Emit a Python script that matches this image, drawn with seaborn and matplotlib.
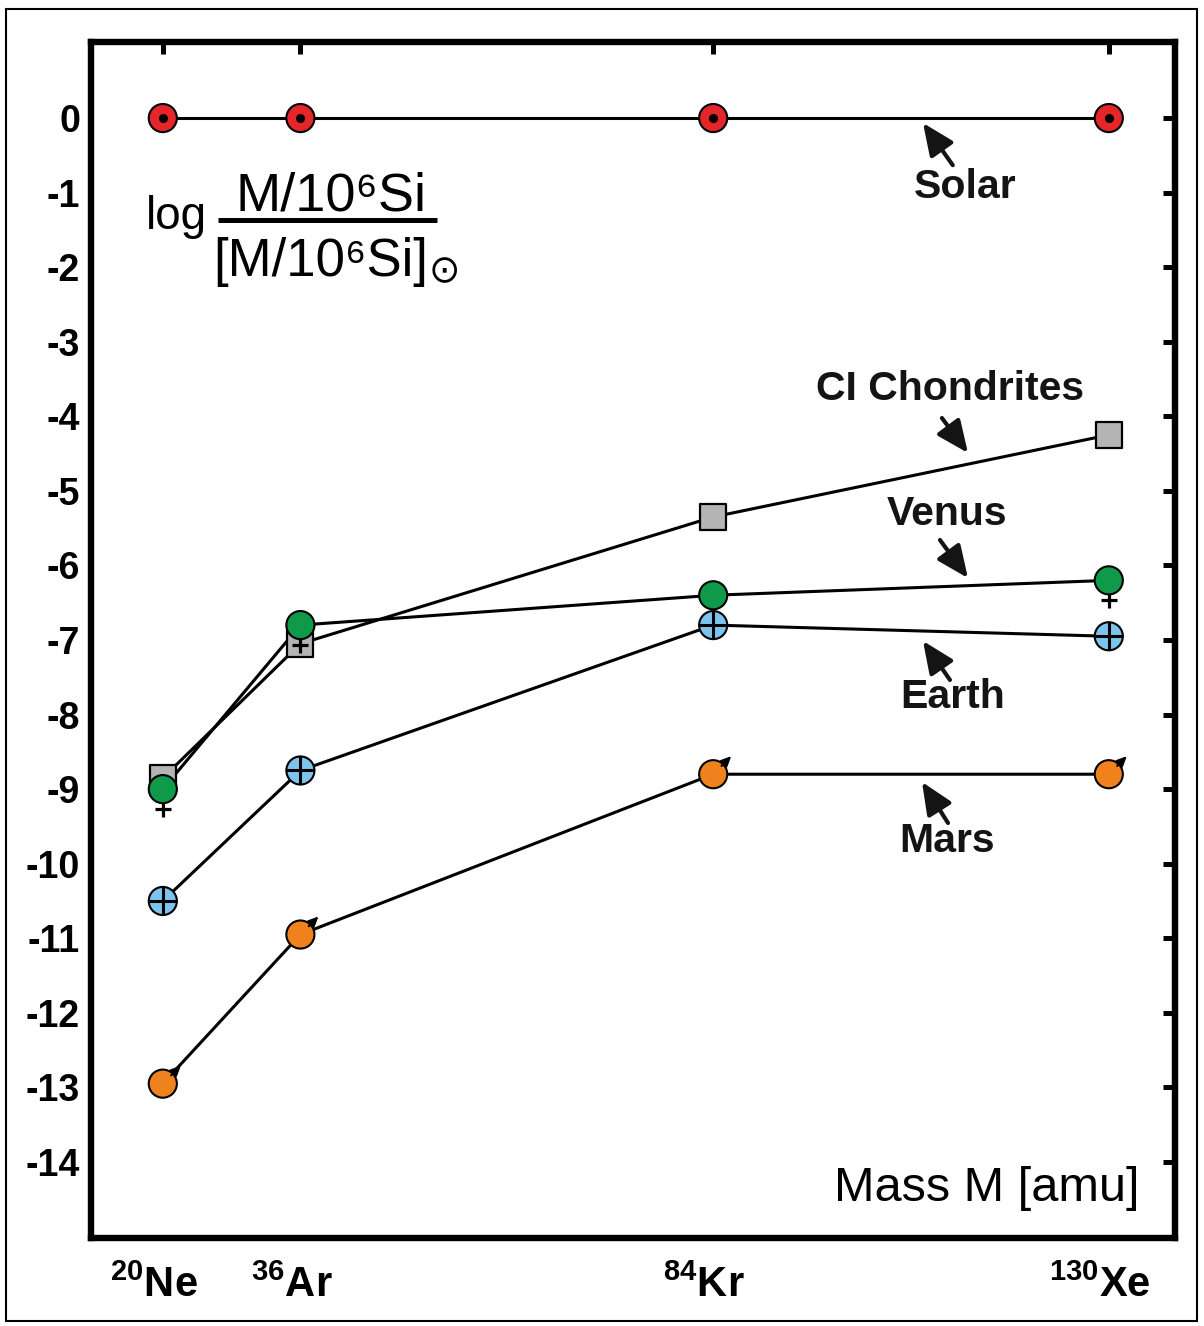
import numpy as np
import pandas as pd
import seaborn as sns
import matplotlib.pyplot as plt
from matplotlib.patches import Rectangle
from matplotlib.transforms import offset_copy, ScaledTranslation

# mass numbers of the noble gas isotopes (x axis)
masses = [20, 36, 84, 130]
isotope_labels = [r'$\mathbf{^{20}Ne}$', r'$\mathbf{^{36}Ar}$', r'$\mathbf{^{84}Kr}$', r'$\mathbf{^{130}Xe}$']

# log abundances normalised to solar
solar = [0.0, 0.0, 0.0, 0.0]
ci_chondrites = [-8.85, -7.05, -5.35, -4.25]
venus = [-9.0, -6.8, -6.4, -6.2]
earth = [-10.5, -8.75, -6.8, -6.95]
mars = [-12.95, -10.95, -8.8, -8.8]

bodies = ['CI Chondrites', 'Venus', 'Earth', 'Mars', 'Solar']
y_ticks = list(range(0, -15, -1))
y_tick_labels = [str(v) if v == 0 else '-' + str(-v) for v in y_ticks]

colors = {'CI Chondrites': '#b4b4b4', 'Venus': '#0f9a4a', 'Earth': '#7cc4ee',
          'Mars': '#f0821e', 'Solar': '#e4262b'}

df = pd.DataFrame({
    'mass': masses * 5,
    'value': ci_chondrites + venus + earth + mars + solar,
    'body': [b for b in bodies for _ in masses],
})

sns.set_theme(style='white')
plt.rcParams['font.family'] = ['Liberation Sans', 'DejaVu Sans']
plt.rcParams['mathtext.fontset'] = 'custom'
plt.rcParams['mathtext.rm'] = 'Liberation Sans'
plt.rcParams['mathtext.bf'] = 'Liberation Sans:bold'
plt.rcParams['mathtext.it'] = 'Liberation Sans:italic'
plt.rcParams['text.color'] = 'black'
plt.rcParams['xtick.color'] = 'black'
plt.rcParams['ytick.color'] = 'black'

fig = plt.figure(figsize=(12.04, 13.26), dpi=100)
ax = fig.add_axes([91 / 1204, 1 - 1238 / 1326, (1175 - 91) / 1204, (1238 - 42) / 1326])

# connecting lines
sns.lineplot(data=df, x='mass', y='value', hue='body', palette={b: 'black' for b in bodies},
             legend=False, lw=2.2, errorbar=None, ax=ax, zorder=2)

# CI chondrite squares first, planet symbols on top
sns.scatterplot(data=df[df['body'] == 'CI Chondrites'], x='mass', y='value', color=colors['CI Chondrites'],
                marker='s', s=350, edgecolor='black', linewidth=1.6, legend=False, ax=ax, zorder=3)

# venus cross sits just under its circle
ax.plot(masses, venus, ls='none', marker='+', ms=11.5, mew=2.3, color='black', zorder=3.5,
        transform=offset_copy(ax.transData, fig=fig, y=-14.5, units='points'))

rest = df[df['body'] != 'CI Chondrites']
sns.scatterplot(data=rest, x='mass', y='value', hue='body', palette=colors, s=410,
                edgecolor='black', linewidth=1.5, legend=False, ax=ax, zorder=4)

# earth: cross inside, sun: dot inside
ax.plot(masses, earth, ls='none', marker='+', ms=19.5, mew=2.2, color='black', zorder=5)
ax.plot(masses, solar, ls='none', marker='o', ms=5.5, color='black', zorder=5)

# mars: small arrow to the upper right
for m, v in zip(masses, mars):
    ax.annotate('', xy=(m, v), xycoords=offset_copy(ax.transData, fig=fig, x=13, y=13, units='points'),
                xytext=(-7, -7), textcoords='offset points', zorder=5,
                arrowprops=dict(arrowstyle='-|>,head_length=0.6,head_width=0.28', lw=1.5,
                                color='black', shrinkA=0, shrinkB=0, mutation_scale=10))

ax.set_xlim(11.65, 137.7)
ax.set_ylim(-15.02, 1.02)
ax.set_xticks(masses)
ax.set_xticklabels(isotope_labels, fontsize=30)
ax.set_yticks(y_ticks)
ax.set_yticklabels(y_tick_labels, fontsize=27, fontweight='bold')
ax.set_xlabel('')
ax.set_ylabel('')
ax.tick_params(axis='both', which='major', direction='in', length=8.6, width=3.6, color='black',
               top=True, right=True, labelcolor='black')
ax.tick_params(axis='y', pad=8)
ax.tick_params(axis='x', pad=20)
# isotope labels sit a little left of their ticks
for lab in ax.get_xticklabels():
    lab.set_transform(lab.get_transform() + ScaledTranslation(-9 / 100, 0, fig.dpi_scale_trans))
for sp in ax.spines.values():
    sp.set_linewidth(4.6)
    sp.set_color('black')
    sp.set_visible(True)

# series labels with arrows (axes fraction)
labels = [('Solar', (0.806, 0.879), (0.795, 0.897), (0.7675, 0.9323)),
          ('CI Chondrites', (0.7924, 0.7099), (0.785, 0.6856), (0.809, 0.6564)),
          ('Venus', (0.7897, 0.6054), (0.7832, 0.5836), (0.809, 0.5518)),
          ('Earth', (0.7952, 0.4523), (0.7924, 0.4666), (0.7675, 0.4992)),
          ('Mars', (0.7897, 0.3319), (0.7906, 0.3470), (0.7666, 0.3813))]
for name, txt, tail, tip in labels:
    ax.text(txt[0], txt[1], name, transform=ax.transAxes, ha='center', va='center',
            fontsize=29.5, fontweight='bold', color='#141414')
    ax.annotate('', xy=tip, xycoords='axes fraction', xytext=tail, textcoords='axes fraction',
                arrowprops=dict(arrowstyle='-|>,head_length=0.75,head_width=0.33', lw=3,
                                color='#141414', shrinkA=0, shrinkB=0, mutation_scale=26))

# y quantity as a fraction
ax.text(0.0784, 0.8436, 'log', transform=ax.transAxes, ha='center', va='baseline', fontsize=33)
ax.text(0.2214, 0.8587, 'M/10\u2076Si', transform=ax.transAxes, ha='center', va='baseline', fontsize=39)
ax.plot([0.1172, 0.3192], [0.8512, 0.8512], transform=ax.transAxes, color='black', lw=3.6,
        solid_capstyle='butt', clip_on=False)
ax.text(0.2115, 0.8043, '[M/10\u2076Si]', transform=ax.transAxes, ha='center', va='baseline', fontsize=38)
ax.text(0.3255, 0.8077, '\u2299', transform=ax.transAxes, ha='center', va='center', fontsize=27,
        family='DejaVu Sans')

ax.text(0.9677, 0.0418, 'Mass M [amu]', transform=ax.transAxes, ha='right', va='center', fontsize=35)

# thin frame round the whole figure
fig.patches.append(Rectangle((6 / 1204, 1 - 1321 / 1326), (1197 - 6) / 1204, (1321 - 9) / 1326,
                             transform=fig.transFigure, fill=False, lw=1.5, edgecolor='black'))

fig.savefig('out.png', dpi=100)
